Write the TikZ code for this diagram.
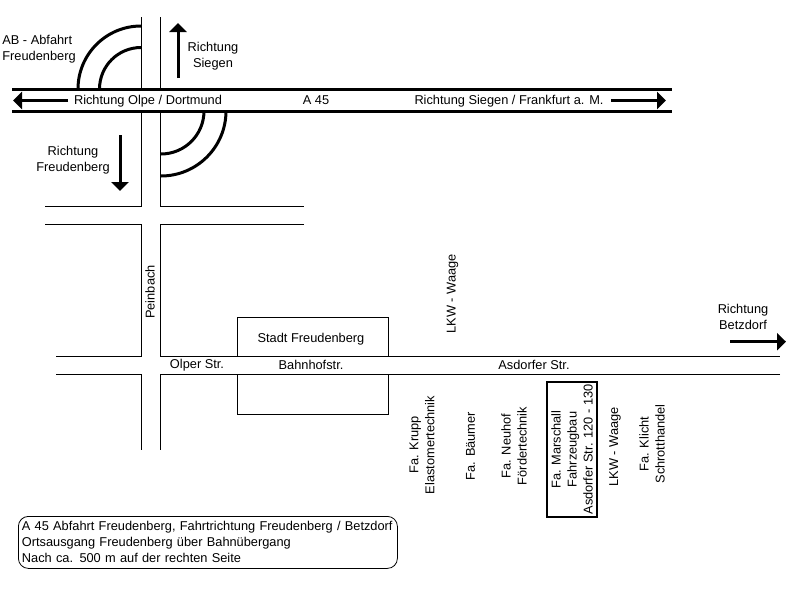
\documentclass[tikz,border=0pt]{standalone}
\usepackage{fontspec}
\setmainfont{Liberation Sans}
\usetikzlibrary{positioning, arrows.meta}
\tikzset{label/.style={inner sep=0pt, align=center, font=\fontsize{12.8}{16}\selectfont},
         sidelabel/.style={label, rotate=90},
         road/.style={line width=1pt},
         motorway/.style={line width=3pt},
         way/.style={-{Triangle[length=9pt, width=17pt]}, line width=3pt}}

\begin{document}
\begin{tikzpicture}[x=1pt, y=-1pt]
        \useasboundingbox (0, 0) rectangle (800, 600);

        % Motorway
        \draw[motorway] (12, 89) -- (672, 89);
        \draw[motorway] (12, 111) -- (672, 111);

        % Ramps
        \draw[motorway] (78, 89) arc[start angle=180, end angle=270, radius=63];
        \draw[motorway] (99.5, 89) arc[start angle=180, end angle=270, radius=41.5];
        \draw[motorway] (226, 111) arc[start angle=0, end angle=90, radius=65];
        \draw[motorway] (204, 111) arc[start angle=0, end angle=90, radius=43];

        % Road to Siegen and Freudenberg
        \draw[road] (141.7, 17) -- (141.7, 89);
        \draw[road] (160.5, 17) -- (160.5, 89);
        \draw[road] (141.7, 111) -- (141.7, 206.5) -- (45, 206.5);
        \draw[road] (160.5, 111) -- (160.5, 206.5) -- (304, 206.5);
        \draw[road] (45, 224.3) -- (141.7, 224.3) -- (141.7, 356.5) -- (56, 356.5);
        \draw[road] (304, 224.3) -- (160.5, 224.3) -- (160.5, 356.5) -- (780, 356.5);
        \draw[road] (56, 374.5) -- (141.7, 374.5) -- (141.7, 450);
        \draw[road] (780, 374.5) -- (160.5, 374.5) -- (160.5, 450);

        % Town
        \draw[road] (237, 356.5) -- (237, 317) -- (388, 317) -- (388, 356.5);
        \draw[road] (237, 374.5) -- (237, 414) -- (388, 414) -- (388, 374.5);

        % Arrows
        \draw[way] (178, 78) -- (178, 23);
        \draw[way] (68, 100.5) -- (13, 100.5);
        \draw[way] (611, 100.5) -- (666, 100.5);
        \draw[way] (120, 135) -- (120, 191);
        \draw[way] (730, 341.7) -- (786, 341.7);

        % Labels at the motorway
        \node[label, align=left] (abfahrt) at (39, 49) {AB - Abfahrt\\Freudenberg};
        \node[label] (siegen) at (213, 56) {Richtung\\Siegen};
        \node[label] (olpe) at (148, 101) {Richtung Olpe / Dortmund};
        \node[label] (afz) at (316, 100) {A 45};
        \node[label] (frankfurt) at (509, 101) {Richtung Siegen / Frankfurt a. M.};
        \node[label] (freudenberg) at (73, 160) {Richtung\\Freudenberg};

        % Labels at the roads
        \node[sidelabel] (peinbach) at (150, 292) {Peinbach};
        \node[label] (stadt) at (311, 339) {Stadt Freudenberg};
        \node[label] (olper) at (197, 365) {Olper Str.};
        \node[label] (bahnhof) at (311, 365) {Bahnhofstr.};
        \node[label] (asdorfer) at (534, 365) {Asdorfer Str.};
        \node[label] (betzdorf) at (743, 317) {Richtung\\Betzdorf};
        \node[sidelabel] (waage) at (452.5, 294) {LKW - Waage};

        % Firms
        \node[sidelabel] (krupp) at (422, 445) {Fa. Krupp\\Elastomertechnik};
        \node[sidelabel] (baeumer) at (470.5, 446) {Fa. Bäumer};
        \node[sidelabel] (neuhof) at (514, 446) {Fa. Neuhof\\Fördertechnik};
        \node[sidelabel, draw, line width=2pt, minimum width=135pt, minimum height=50pt] (marschall) at (572, 449.5)
            {Fa. Marschall\\Fahrzeugbau\\Asdorfer Str. 120 - 130};
        \node[sidelabel] (waagezwei) at (615, 447) {LKW - Waage};
        \node[sidelabel] (klicht) at (652, 444) {Fa. Klicht\\Schrotthandel};

        % Directions
        \node[label, align=left, draw, rounded corners=10pt, line width=0.8pt, anchor=north west,
              minimum width=379pt, minimum height=52pt, text width=372pt, inner sep=3.5pt] (weg) at (18, 516)
            {A 45 Abfahrt Freudenberg, Fahrtrichtung Freudenberg / Betzdorf\\
             Ortsausgang Freudenberg über Bahnübergang\\
             Nach ca. 500 m auf der rechten Seite};

    \end{tikzpicture}
\end{document}
